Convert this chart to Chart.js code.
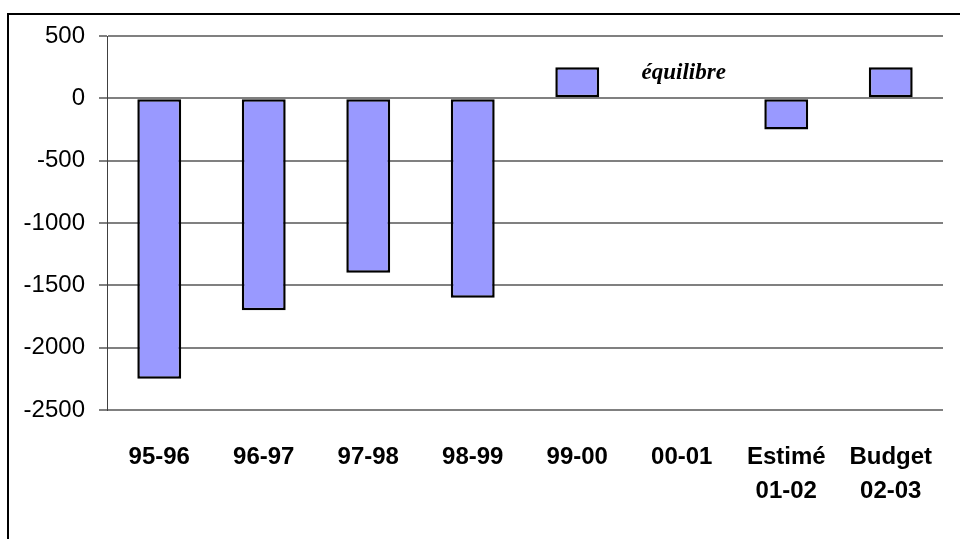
<!DOCTYPE html>
<html>
<head>
<meta charset="utf-8">
<script src="https://cdn.jsdelivr.net/npm/chart.js@4/dist/chart.umd.min.js"></script>
<style>
  html, body { margin: 0; padding: 0; background: #fff; }
  #wrap { position: relative; width: 960px; height: 539px; overflow: hidden; }
  #frame { position: absolute; left: 7px; top: 13px; width: 1000px; height: 600px;
           border-left: 2px solid #000; border-top: 2px solid #000; }
  canvas { position: absolute; left: 0; top: 0; }
</style>
</head>
<body>
<div id="wrap">
  <div id="frame"></div>
  <canvas id="c" width="960" height="539"></canvas>
</div>
<script>
// ---- data ----
const categories = ['95-96', '96-97', '97-98', '98-99', '99-00', '00-01', ['Estimé', '01-02'], ['Budget', '02-03']];
const balance = [-2250, -1700, -1400, -1600, 250, 0, -250, 250];
const yTicks = [500, 0, -500, -1000, -1500, -2000, -2500];
const noteText = 'équilibre';
const noteCategoryIndex = 5;
const noteLevel = 200;

const notePlugin = {
  id: 'note',
  afterDatasetsDraw(chart) {
    const ctx = chart.ctx;
    const x = chart.scales.x.getPixelForValue(noteCategoryIndex);
    const y = chart.scales.y.getPixelForValue(noteLevel);
    ctx.save();
    ctx.font = 'italic bold 23px "Liberation Serif", "Times New Roman", serif';
    ctx.fillStyle = '#000';
    ctx.textAlign = 'center';
    ctx.textBaseline = 'middle';
    ctx.fillText(noteText, x + 2, y);
    ctx.restore();
  }
};

new Chart(document.getElementById('c'), {
  type: 'bar',
  data: {
    labels: categories,
    datasets: [{
      data: balance,
      backgroundColor: '#9999FF',
      borderColor: '#000000',
      borderWidth: 2.5,
      borderSkipped: false,
      inflateAmount: 0,
      barPercentage: 0.42,
      categoryPercentage: 1.0
    }]
  },
  options: {
    responsive: false,
    animation: false,
    devicePixelRatio: 1,
    layout: { padding: { left: 0, right: 17, top: 36, bottom: 0 } },
    plugins: { legend: { display: false }, tooltip: { enabled: false } },
    scales: {
      x: {
        grid: { display: false },
        border: { display: false },
        ticks: {
          color: '#000',
          padding: 23,
          maxRotation: 0,
          autoSkip: false,
          font: { family: '"Liberation Sans", Arial, sans-serif', size: 24, weight: 'bold', lineHeight: 1.4 }
        },
        afterFit(scale) { scale.height = 129; }
      },
      y: {
        min: -2500,
        max: 500,
        afterBuildTicks(scale) { scale.ticks = yTicks.map(v => ({ value: v })); },
        grid: { color: '#808080', lineWidth: 2, tickLength: 8, drawTicks: true },
        border: { display: true, color: '#404040', width: 1 },
        ticks: {
          color: '#000',
          padding: 14,
          callback: (v) => String(v),
          font: { family: '"Liberation Sans", Arial, sans-serif', size: 24 }
        },
        afterFit(scale) { scale.width = 107; }
      }
    }
  },
  plugins: [notePlugin]
});
</script>
</body>
</html>
